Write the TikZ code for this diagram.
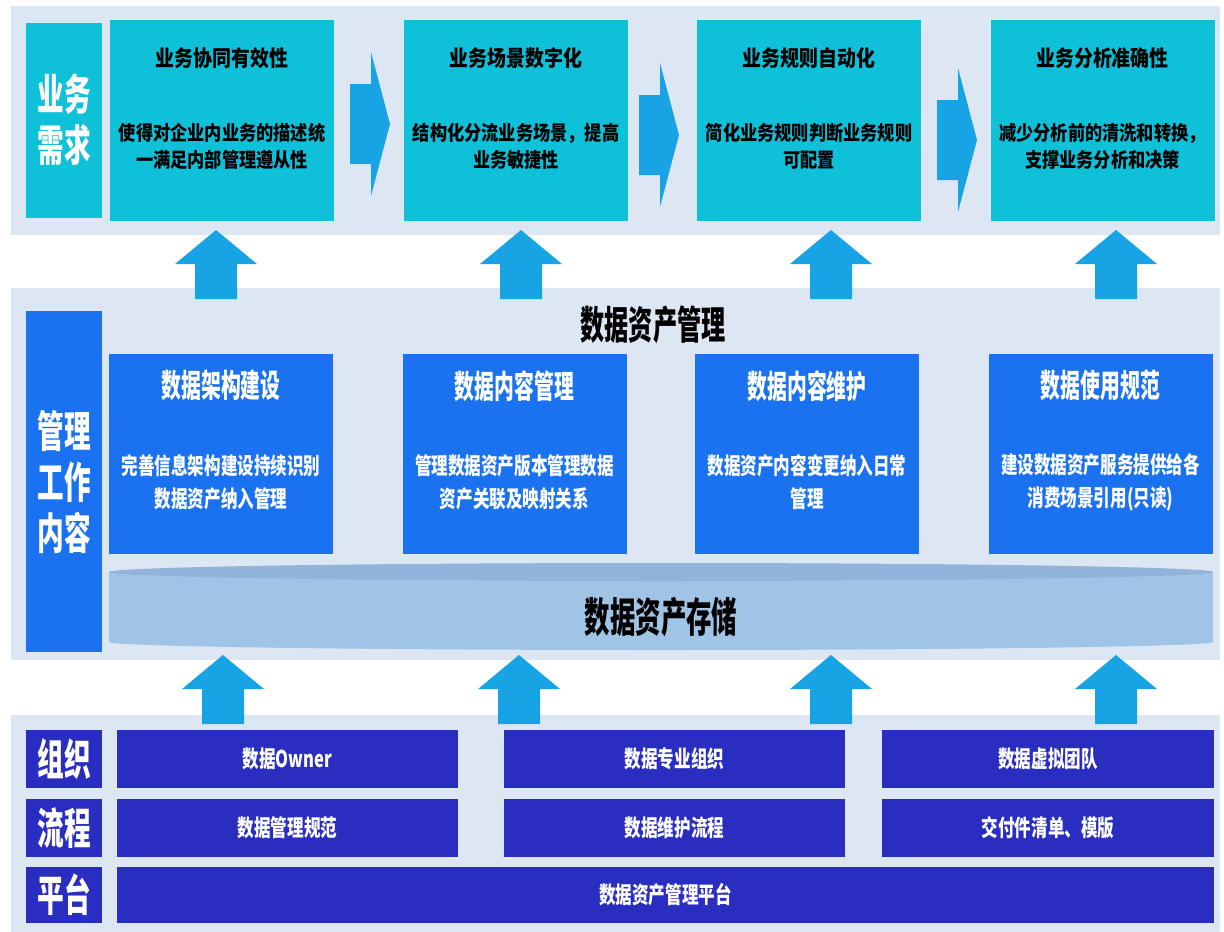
\documentclass[tikz,border=0pt]{standalone}
\usepackage{fontspec}
\setmainfont{Noto Sans CJK SC}
\newfontfamily\condfont{Noto Sans CJK SC}[FakeStretch=0.62]
\newfontfamily\midfont{Noto Sans CJK SC}[FakeStretch=0.72]
\newfontfamily\widefont{Noto Sans CJK SC}[FakeStretch=0.86]
\usetikzlibrary{positioning}

\definecolor{panelbg}{RGB}{221,231,243}
\definecolor{needcyan}{RGB}{14,192,216}
\definecolor{arrowblue}{RGB}{24,164,228}
\definecolor{workblue}{RGB}{26,114,240}
\definecolor{basenavy}{RGB}{42,46,192}
\definecolor{storebody}{RGB}{160,196,230}
\definecolor{storetop}{RGB}{146,180,218}

\tikzset{
  uparr/.pic={\fill[arrowblue] (-21,69) -- (-21,34) -- (-41,34) -- (0,0) -- (41,34) -- (21,34) -- (21,69) -- cycle;},
  rightarr/.pic={\fill[arrowblue] (0,-40) -- (21,-40) -- (21,-72) -- (40,0) -- (21,72) -- (21,40) -- (0,40) -- cycle;}
}

\begin{document}
\begin{tikzpicture}[x=1pt, y=-1pt,
    needbox/.style={fill=needcyan, minimum width=224pt, minimum height=201pt, inner sep=0pt},
    needhead/.style={font=\widefont\bfseries\fontsize{22pt}{26pt}\selectfont, text=black},
    needtext/.style={font=\widefont\bfseries\fontsize{20pt}{27pt}\selectfont, text=black, align=center},
    workbox/.style={fill=workblue, minimum width=224pt, minimum height=200pt, inner sep=0pt},
    workhead/.style={font=\condfont\bfseries\fontsize{32pt}{36pt}\selectfont, text=white},
    worktext/.style={font=\midfont\bfseries\fontsize{23pt}{33pt}\selectfont, text=white, align=center},
    sidelabel/.style={minimum width=76pt, inner sep=0pt, text=white, align=center,
      font=\condfont\bfseries\fontsize{43pt}{51pt}\selectfont},
    basebox/.style={fill=basenavy, inner sep=0pt, text=white,
      font=\midfont\bfseries\fontsize{23pt}{26pt}\selectfont},
    bighead/.style={font=\condfont\bfseries\fontsize{39pt}{44pt}\selectfont, text=black}
  ]
  \useasboundingbox[fill=white] (0,0) rectangle (1224,932);

  % panels
  \fill[panelbg] (11,6) rectangle (1220,235);
  \fill[panelbg] (11,288) rectangle (1220,660);
  \fill[panelbg] (11,715) rectangle (1220,932);

  % arrows
  \foreach \ax in {216,521,831,1116} \pic at (\ax,230) {uparr};
  \foreach \ax in {223,519,831,1116} \pic at (\ax,655) {uparr};
  \pic at (350,124) {rightarr};
  \pic at (639,135) {rightarr};
  \pic at (937,140) {rightarr};

  % business needs
  \node[sidelabel, fill=needcyan, minimum height=195pt] (needlbl) at (64,120) {业务\\需求};
  \node[needbox] (need1) at (222,120.5) {};
  \node[needbox] (need2) at (516,120.5) {};
  \node[needbox] (need3) at (809,120.5) {};
  \node[needbox] (need4) at (1102.5,120.5) {};
  \node[needhead] (need1t) at ([yshift=-38pt]need1.north) {业务协同有效性};
  \node[needhead] (need2t) at ([yshift=-38pt]need2.north) {业务场景数字化};
  \node[needhead] (need3t) at ([yshift=-38pt]need3.north) {业务规则自动化};
  \node[needhead] (need4t) at ([yshift=-38pt]need4.north) {业务分析准确性};
  \node[needtext] (need1b) at ([yshift=-26pt]need1.center) {使得对企业内业务的描述统\\一满足内部管理遵从性};
  \node[needtext] (need2b) at ([yshift=-26pt]need2.center) {结构化分流业务场景，提高\\业务敏捷性};
  \node[needtext] (need3b) at ([yshift=-26pt]need3.center) {简化业务规则判断业务规则\\可配置};
  \node[needtext] (need4b) at ([yshift=-26pt]need4.center) {减少分析前的清洗和转换，\\支撑业务分析和决策};

  % management work
  \node[sidelabel, fill=workblue, minimum height=341pt] (worklbl) at (64,481.5) {管理\\工作\\内容};
  \node[bighead] (assetmgmt) at (653,325) {数据资产管理};
  \node[workbox] (work1) at (221,454) {};
  \node[workbox] (work2) at (514.5,454) {};
  \node[workbox] (work3) at (807,454) {};
  \node[workbox] (work4) at (1100.5,454) {};
  \node[workhead] (work1t) at ([yshift=-32pt]work1.north) {数据架构建设};
  \node[workhead] (work2t) at ([yshift=-32pt]work2.north) {数据内容管理};
  \node[workhead] (work3t) at ([yshift=-32pt]work3.north) {数据内容维护};
  \node[workhead] (work4t) at ([yshift=-32pt]work4.north) {数据使用规范};
  \node[worktext] (work1b) at ([yshift=-28pt]work1.center) {完善信息架构建设持续识别\\数据资产纳入管理};
  \node[worktext] (work2b) at ([yshift=-28pt]work2.center) {管理数据资产版本管理数据\\资产关联及映射关系};
  \node[worktext] (work3b) at ([yshift=-28pt]work3.center) {数据资产内容变更纳入日常\\管理};
  \node[worktext] (work4b) at ([yshift=-28pt]work4.center) {建设数据资产服务提供给各\\消费场景引用(只读)};

  % storage drum
  \fill[storebody] (109,572) rectangle (1213,642);
  \fill[storebody] (661,642) ellipse [x radius=552, y radius=8];
  \fill[storetop] (661,572) ellipse [x radius=552, y radius=9];
  \node[bighead, font=\condfont\bfseries\fontsize{41pt}{44pt}\selectfont] (storage) at (661,617) {数据资产存储};

  % base layers
  \node[sidelabel, fill=basenavy, minimum height=58pt] (orglbl) at (64,759) {组织};
  \node[sidelabel, fill=basenavy, minimum height=58pt] (proclbl) at (64,828) {流程};
  \node[sidelabel, fill=basenavy, minimum height=56pt] (platlbl) at (64,895) {平台};
  \node[basebox, minimum width=341pt, minimum height=58pt] (org1) at (287.5,759) {数据Owner};
  \node[basebox, minimum width=341pt, minimum height=58pt] (org2) at (674.5,759) {数据专业组织};
  \node[basebox, minimum width=332pt, minimum height=58pt] (org3) at (1048,759) {数据虚拟团队};
  \node[basebox, minimum width=341pt, minimum height=58pt] (proc1) at (287.5,828) {数据管理规范};
  \node[basebox, minimum width=341pt, minimum height=58pt] (proc2) at (674.5,828) {数据维护流程};
  \node[basebox, minimum width=332pt, minimum height=58pt] (proc3) at (1048,828) {交付件清单、模版};
  \node[basebox, minimum width=1097pt, minimum height=56pt] (plat) at (665.5,895) {数据资产管理平台};
\end{tikzpicture}
\end{document}
